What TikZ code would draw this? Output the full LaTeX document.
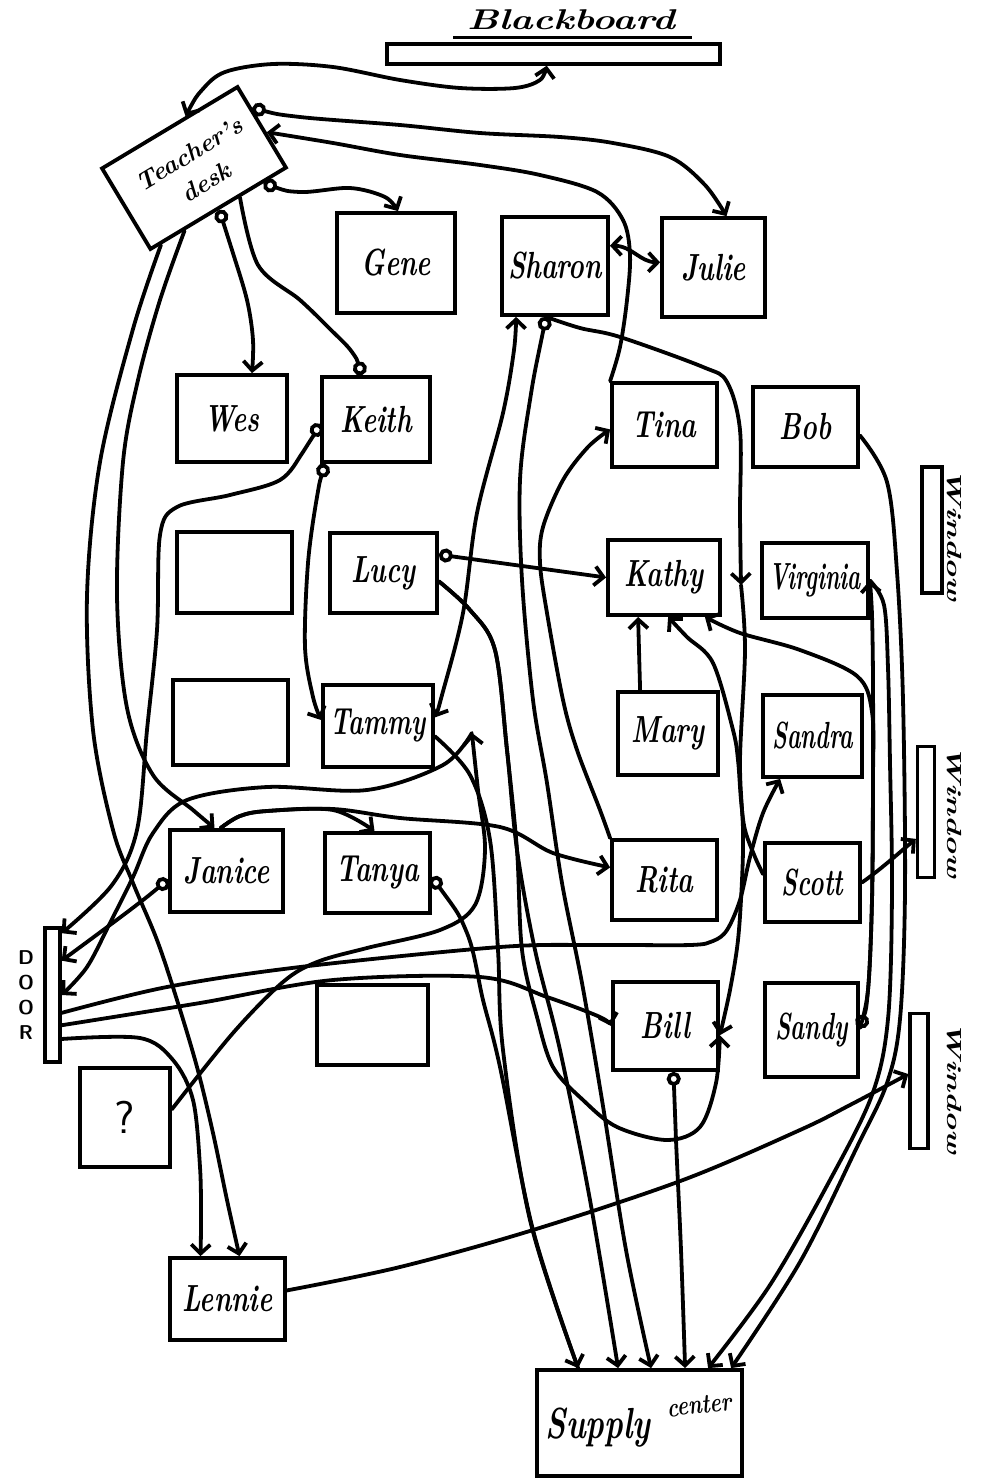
\documentclass[tikz,border=0pt]{standalone}
\usetikzlibrary{arrows.meta,calc}
\newcommand\seatfont{\fontsize{28}{30}\selectfont\bfseries\itshape}
\newcommand\nm[2][0.95]{\scalebox{#1}[1.35]{\seatfont #2}}
\tikzset{
  seat/.style={draw, line width=3.8pt, inner sep=0pt, font=\seatfont},
  bar/.style={draw, line width=3.4pt, inner sep=0pt},
  link/.style={line width=3.8pt, line cap=round, line join=round},
  >={Straight Barb[length=9pt,width=19pt]},
  ring/.tip={Circle[open,length=14pt,width=14pt]},
  wlabel/.style={rotate=-90, inner sep=0pt},
}
\begin{document}
\begin{tikzpicture}[x=1pt,y=-1pt]
\useasboundingbox (0,0) rectangle (982,1478);

% ---------- room furniture ----------
\node[bar, minimum width=333pt, minimum height=20pt] (board) at (553.5,54) {};
\node[inner sep=0pt] (boardlabel) at (571,20)
  {\scalebox{1.75}[1.3]{\fontsize{22}{22}\selectfont\bfseries\itshape Blackboard}};
\draw[line width=3pt] (453,37) -- (692,37);

\node[seat, rotate=31, minimum width=158pt, minimum height=94pt] (desk) at (194,168) {};
\node[rotate=31, inner sep=0pt, font=\fontsize{25}{25}\selectfont\bfseries\itshape]
  (deskA) at ($(desk.center)+(-5,-14)$) {Teacher's};
\node[rotate=31, inner sep=0pt, font=\fontsize{25}{25}\selectfont\bfseries\itshape]
  (deskB) at ($(desk.center)+(12,14)$) {desk};

\node[bar, minimum width=15pt, minimum height=134pt] (door) at (52.5,995) {};
\node[align=center, font=\fontsize{20}{25}\selectfont\sffamily\bfseries] (doorlabel) at (26,995) {D\\O\\O\\R};

\node[bar, minimum width=20pt, minimum height=126pt] (win1) at (932,530) {};
\node[bar, minimum width=17pt, minimum height=131pt] (win2) at (926,812) {};
\node[bar, minimum width=18pt, minimum height=135pt] (win3) at (919,1081) {};
\foreach \w/\yy in {1/535,2/812,3/1088}
  \node[wlabel] (wl\w) at (954,\yy)
    {\scalebox{1.9}[1.2]{\fontsize{17}{17}\selectfont\bfseries\itshape Window}};

% ---------- seats ----------
\node[seat, minimum width=118pt, minimum height=100pt] (gene) at (396,263) {\nm{Gene}};
\node[seat, minimum width=106pt, minimum height=98pt] (sharon) at (555,266) {\nm{Sharon}};
\node[seat, minimum width=103pt, minimum height=99pt] (julie) at (713.5,267.5) {\nm{Julie}};
\node[seat, minimum width=110pt, minimum height=87pt] (wes) at (232,418.5) {\nm{Wes}};
\node[seat, minimum width=108pt, minimum height=85pt] (keith) at (376,419.5) {\nm{Keith}};
\node[seat, minimum width=115pt, minimum height=81pt] (blankA) at (234.5,572.5) {};
\node[seat, minimum width=107pt, minimum height=80pt] (lucy) at (383.5,573) {\nm{Lucy}};
\node[seat, minimum width=115pt, minimum height=85pt] (blankB) at (230.5,722.5) {};
\node[seat, minimum width=110pt, minimum height=82pt] (tammy) at (378,726) {\nm[0.9]{Tammy}};
\node[seat, minimum width=105pt, minimum height=84pt] (tina) at (664.5,425) {\nm{Tina}};
\node[seat, minimum width=105pt, minimum height=80pt] (bob) at (805.5,427) {\nm{Bob}};
\node[seat, minimum width=112pt, minimum height=75pt] (kathy) at (664,577.5) {\nm{Kathy}};
\node[seat, minimum width=106pt, minimum height=75pt] (virginia) at (815,580.5) {\nm[0.8]{Virginia}};
\node[seat, minimum width=100pt, minimum height=83pt] (mary) at (668,733.5) {\nm{Mary}};
\node[seat, minimum width=99pt, minimum height=82pt] (sandra) at (812.5,736) {\nm[0.82]{Sandra}};
\node[seat, minimum width=113pt, minimum height=82pt] (janice) at (226.5,871) {\nm{Janice}};
\node[seat, minimum width=105pt, minimum height=80pt] (tanya) at (377.5,873) {\nm{Tanya}};
\node[seat, minimum width=105pt, minimum height=80pt] (rita) at (664.5,880) {\nm{Rita}};
\node[seat, minimum width=95pt, minimum height=79pt] (scott) at (812.5,882.5) {\nm[0.88]{Scott}};
\node[seat, minimum width=111pt, minimum height=80pt] (blankC) at (372.5,1025) {};
\node[seat, minimum width=105pt, minimum height=88pt] (bill) at (665.5,1026) {\nm{Bill}};
\node[seat, minimum width=93pt, minimum height=94pt] (sandy) at (811.5,1030) {\nm[0.85]{Sandy}};
\node[seat, minimum width=90pt, minimum height=99pt, font=\fontsize{46}{46}\selectfont\sffamily] (qbox) at (125,1117.5) {?};
\node[seat, minimum width=115pt, minimum height=82pt] (lennie) at (227.5,1299) {\nm{Lennie}};
\node[seat, minimum width=205pt, minimum height=106pt] (supply) at (639.5,1423) {};
\node[inner sep=0pt] (supplyA) at (598,1428)
  {\scalebox{1.05}[1.45]{\fontsize{30}{30}\selectfont\bfseries\itshape Supply}};
\node[inner sep=0pt, rotate=6] (supplyB) at (699,1405)
  {\scalebox{1}[1.3]{\fontsize{21}{21}\selectfont\bfseries\itshape center}};

% ---------- connector end points ----------
\coordinate (dBB) at ($(desk.north west)!0.62!(desk.north east)$);
\coordinate (dJu) at ($(desk.north east)!0.28!(desk.south east)$);
\coordinate (dTi) at ($(desk.north east)!0.57!(desk.south east)$);
\coordinate (dGe) at ($(desk.south west)!0.82!(desk.south east)$);
\coordinate (dKe) at ($(desk.south west)!0.65!(desk.south east)$);
\coordinate (dWe) at ($(desk.south west)!0.50!(desk.south east)$);
\coordinate (dJa) at ($(desk.south west)!0.25!(desk.south east)$);
\coordinate (dLe) at ($(desk.south west)!0.08!(desk.south east)$);
\coordinate (bbA) at ($(board.south west)!0.48!(board.south east)$);
\coordinate (juA) at ($(julie.north)+(13,0)$);
\coordinate (juW) at ($(julie.north west)!0.45!(julie.south west)$);
\coordinate (shE) at ($(sharon.north east)!0.3!(sharon.south east)$);
\coordinate (shB) at ($(sharon.south west)+(16,0)$);
\coordinate (shC) at ($(sharon.south west)+(46,0)$);
\coordinate (geA) at ($(gene.north)+(2,0)$);
\coordinate (weA) at ($(wes.north)+(20,0)$);
\coordinate (keA) at ($(keith.north)+(-14,0)$);
\coordinate (keW) at ($(keith.north west)!0.55!(keith.south west)$);
\coordinate (keS) at ($(keith.south west)+(5,0)$);
\coordinate (jaA) at ($(janice.north)+(-12,0)$);
\coordinate (jaN) at ($(janice.north)+(-6,0)$);
\coordinate (jaW) at ($(janice.north west)!0.6!(janice.south west)$);
\coordinate (leA) at ($(lennie.north)+(-27,0)$);
\coordinate (leB) at ($(lennie.north)+(12,0)$);
\coordinate (leE) at ($(lennie.north east)!0.4!(lennie.south east)$);
\coordinate (doA) at ($(door.north east)!0.05!(door.south east)$);
\coordinate (doB) at ($(door.north east)!0.25!(door.south east)$);
\coordinate (doC) at ($(door.north east)!0.50!(door.south east)$);
\coordinate (doD) at ($(door.north east)!0.63!(door.south east)$);
\coordinate (doE) at ($(door.north east)!0.72!(door.south east)$);
\coordinate (doF) at ($(door.north east)!0.82!(door.south east)$);
\coordinate (tmE) at ($(tammy.north east)!0.4!(tammy.south east)$);
\coordinate (tmF) at ($(tammy.north east)!0.62!(tammy.south east)$);
\coordinate (tmW) at ($(tammy.north west)!0.43!(tammy.south west)$);
\coordinate (tmA) at ($(tammy.south east)+(37,-36)$);
\coordinate (taE) at ($(tanya.north east)!0.55!(tanya.south east)$);
\coordinate (taN) at ($(tanya.north)+(-3,0)$);
\coordinate (luE) at ($(lucy.north east)!0.28!(lucy.south east)$);
\coordinate (luF) at ($(lucy.north east)!0.6!(lucy.south east)$);
\coordinate (kaW) at (kathy.west);
\coordinate (kaA) at ($(kathy.south west)+(32,0)$);
\coordinate (kaB) at ($(kathy.south west)+(62,0)$);
\coordinate (kaC) at ($(kathy.south east)+(-17,0)$);
\coordinate (maN) at ($(mary.north west)+(24,0)$);
\coordinate (tiA) at (tina.north west);
\coordinate (tiW) at ($(tina.north west)!0.55!(tina.south west)$);
\coordinate (riNW) at (rita.north west);
\coordinate (riW) at ($(rita.north west)!0.35!(rita.south west)$);
\coordinate (vkA) at ($(kathy.east)!0.5!(virginia.west)+(0,6)$);
\coordinate (viE) at ($(virginia.north east)!0.5!(virginia.south east)$);
\coordinate (boE) at ($(bob.north east)!0.6!(bob.south east)$);
\coordinate (snA) at ($(sandra.south west)+(19,0)$);
\coordinate (scA) at ($(scott.north west)!0.4!(scott.south west)$);
\coordinate (scE) at ($(scott.north east)!0.5!(scott.south east)$);
\coordinate (saE) at ($(sandy.north east)!0.48!(sandy.south east)$);
\coordinate (biE) at ($(bill.north east)!0.6!(bill.south east)$);
\coordinate (biW) at ($(bill.north west)!0.5!(bill.south west)$);
\coordinate (biS) at ($(bill.south)+(8,0)$);
\coordinate (qE) at ($(qbox.north east)!0.42!(qbox.south east)$);
\coordinate (suA) at ($(supply.north west)+(43,0)$);
\coordinate (suB) at ($(supply.north west)+(83,0)$);
\coordinate (suC) at ($(supply.north west)+(116,0)$);
\coordinate (suD) at ($(supply.north west)+(150,0)$);
\coordinate (suE) at ($(supply.north west)+(173,0)$);
\coordinate (suF) at ($(supply.north west)+(196,0)$);
\coordinate (w2A) at ($(win2.north west)!0.7!(win2.south west)$);
\coordinate (w3A) at ($(win3.north west)!0.45!(win3.south west)$);

% ---------- paths around the teacher's desk ----------
\draw[link,<->] plot[smooth,tension=0.55] coordinates
  {(dBB) (202,90) (225,72) (273,64) (333,67) (400,80) (460,88) (515,88) (540,80) (bbA)};
\draw[link,ring->] plot[smooth,tension=0.55] coordinates
  {(dJu) (300,117) (400,125) (480,133) (560,137) (613,143) (670,157) (705,185) (juA)};
\draw[link,->] plot[smooth,tension=0.55] coordinates
  {(tiA) (620,347) (627,300) (630,255) (623,220) (597,192) (540,175) (480,165) (400,155) (333,143) (dTi)};
\draw[link,ring->] plot[smooth,tension=0.55] coordinates
  {(dGe) (300,192) (350,188) (385,197) (geA)};
\draw[link,ring->] plot[smooth,tension=0.55] coordinates
  {(dWe) (232,250) (247,300) (253,340) (weA)};
\draw[link,ring-] plot[smooth,tension=0.55] coordinates
  {(keA) (352,352) (330,329) (300,300) (258,265) (dKe)};
\draw[link,->] plot[smooth,tension=0.55] coordinates
  {(dJa) (160,300) (138,380) (123,462) (117,596) (127,708) (153,775) (193,810) (jaA)};
\draw[link,->] plot[smooth,tension=0.55] coordinates
  {(dLe) (133,329) (100,462) (87,596) (93,730) (113,830) (133,883) (157,940) (177,1000) (197,1067) (213,1133) (227,1200) (leB)};

% ---------- front rows ----------
\draw[link,<->] (shE) .. controls (632,246) and (640,262) .. (juW);
\draw[link,ring->] plot[smooth,tension=0.55] coordinates
  {(keW) (303,452) (280,480) (230,495) (177,507) (160,535) (157,630) (147,730) (137,830) (112,885) (doA)};
\draw[link,ring->] plot[smooth,tension=0.55] coordinates
  {(keS) (317,497) (308,563) (305,647) (313,697) (tmW)};
\draw[link,<->] plot[smooth,tension=0.55] coordinates
  {(tmE) (442,695) (463,613) (477,513) (503,413) (514,350) (shB)};
\draw[link,ring->] (luE) -- (kaW);
\draw[link,->] plot[smooth,tension=0.55] coordinates
  {(luF) (470,610) (495,650) (507,750) (517,850) (522,950) (537,1017) (553,1067) (583,1100) (617,1127) (667,1140) (700,1127) (716,1083) (biE)};
\draw[link,->] plot[smooth,tension=0.55] coordinates
  {(luF) (470,610) (495,650) (507,750) (517,850) (535,950) (560,1050) (590,1200) (suB)};
\draw[link,ring->] plot[smooth,tension=0.55] coordinates
  {(shC) (530,400) (520,480) (522,580) (533,700) (547,783) (562,883) (582,983) (602,1100) (626,1250) (suC)};
\draw[link,->] plot[smooth,tension=0.55] coordinates
  {(shC) (580,328) (620,337) (703,367) (727,382) (740,430) (740,513) (vkA)};
\draw[link,->] plot[smooth,tension=0.55] coordinates
  {(vkA) (745,650) (740,760) (743,830) (742,880) (738,940) (730,990) (biE)};
\draw[link,->] plot[smooth,tension=0.55] coordinates
  {(riNW) (600,810) (577,750) (563,700) (547,613) (540,563) (543,527) (563,480) (588,447) (tiW)};

% ---------- middle of the room ----------
\draw[link,->] (maN) -- (kaA);
\draw[link,->] plot[smooth,tension=0.55] coordinates
  {(scA) (755,857) (745,830) (741,800) (738,760) (733,730) (713,663) (687,637) (kaB)};
\draw[link,ring->] plot[smooth,tension=0.55] coordinates
  {(saE) (868,990) (872,900) (873,780) (872,712) (857,676) (800,650) (740,633) (kaC)};
\draw[link,->] plot[smooth,tension=0.55] coordinates
  {(saE) (868,990) (872,900) (873,780) (873,680) (872,615) (viE)};
\draw[link,->] plot[smooth,tension=0.55] coordinates
  {(viE) (884,605) (888,668) (890,763) (892,891) (888,1019) (872,1095) (830,1180) (770,1285) (suE)};
\draw[link,->] plot[smooth,tension=0.55] coordinates
  {(boE) (887,482) (897,572) (903,700) (905,891) (900,1019) (887,1083) (857,1147) (800,1262) (suF)};
\draw[link,->] (scE) .. controls (880,870) and (900,852) .. (w2A);
\draw[link,ring->] plot[smooth,tension=0.55] coordinates
  {(biS) (676,1140) (681,1250) (suD)};

% ---------- back of the room ----------
\draw[link,->] plot[smooth,tension=0.55] coordinates
  {(jaN) (240,816) (267,811) (333,810) (taN)};
\draw[link,->] plot[smooth,tension=0.55] coordinates
  {(jaN) (240,816) (267,811) (333,809) (400,818) (500,827) (553,853) (riW)};
\draw[link,ring->] plot[smooth,tension=0.55] coordinates
  {(jaW) (130,910) (doB)};
\draw[link,->] plot[smooth,tension=0.55] coordinates
  {(tmA) (443,765) (367,790) (267,787) (187,800) (153,833) (133,877) (110,923) (87,967) (doC)};
\draw[link,->] plot[smooth,tension=0.55] coordinates
  {(qE) (233,1033) (283,982) (317,962) (367,948) (440,930) (475,905) (485,850) (478,790) (tmA)};
\draw[link] plot[smooth,tension=0.55] coordinates
  {(tmF) (470,775) (490,840) (498,950) (503,1050) (530,1220) (suA)};
\draw[link,ring->] plot[smooth,tension=0.55] coordinates
  {(taE) (467,933) (483,1000) (500,1067) (533,1230) (suA)};
\draw[link,->] plot[smooth,tension=0.55] coordinates
  {(doD) (167,987) (300,967) (500,947) (600,945) (690,945) (713,941) (727,930) (740,900) (750,857) (763,813) (snA)};
\draw[link,->] plot[smooth,tension=0.55] coordinates
  {(doE) (200,1003) (333,980) (480,977) (547,997) (600,1017) (biW)};
\draw[link,->] plot[smooth,tension=0.55] coordinates
  {(doF) (140,1038) (173,1060) (193,1100) (200,1167) (201,1220) (leA)};
\draw[link,->] plot[smooth,tension=0.55] coordinates
  {(leE) (400,1267) (533,1230) (683,1180) (800,1130) (850,1105) (w3A)};
\end{tikzpicture}
\end{document}
